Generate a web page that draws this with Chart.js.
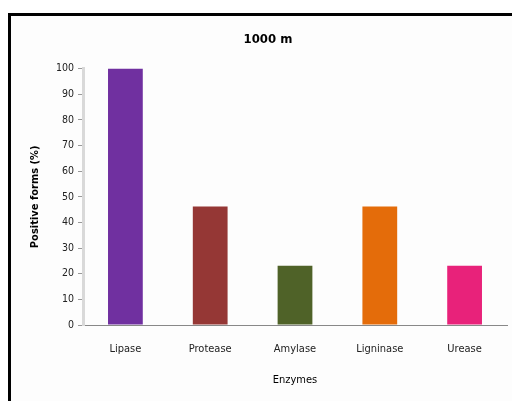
<!DOCTYPE html>
<html><head><meta charset="utf-8">
<script src="https://cdn.jsdelivr.net/npm/chart.js@4/dist/chart.umd.min.js"></script>
<style>
html,body{margin:0;padding:0;background:#fff;overflow:hidden;}
canvas{display:block;}
</style></head>
<body><canvas id="c" width="512" height="401"></canvas>
<script>
const categories = ["Lipase","Protease","Amylase","Ligninase","Urease"];
const values = [100, 46.2, 23.1, 46.2, 23.1];
const barColors = ["#7030A0","#953735","#4F6228","#E46C0A","#E8227A"];
const yTicks = [0,10,20,30,40,50,60,70,80,90,100];

const framePlugin = {
  id: 'frame',
  beforeDraw(chart) {
    const ctx = chart.ctx;
    ctx.save();
    ctx.fillStyle = '#ffffff';
    ctx.fillRect(0, 0, chart.width, chart.height);
    ctx.fillStyle = '#fdfdfd';
    ctx.fillRect(8, 13, chart.width - 8, chart.height - 13);
    ctx.fillStyle = '#000';
    ctx.fillRect(8, 13, chart.width - 8, 3);
    ctx.fillRect(8, 13, 3, chart.height - 13);
    ctx.restore();
  }
};

new Chart(document.getElementById('c'), {
  type: 'bar',
  data: { labels: categories, datasets: [{ data: values, backgroundColor: barColors, borderWidth: 0, barPercentage: 0.82, categoryPercentage: 0.5 }] },
  options: {
    responsive: false, animation: false,
    layout: { padding: { left: 29, right: 5, top: 0, bottom: 14 } },
    plugins: {
      legend: { display: false }, tooltip: { enabled: false },
      title: { display: true, text: '1000 m', color: '#000', font: { family: 'DejaVu Sans Condensed', size: 13, weight: 'bold' }, padding: { top: 32, bottom: 21 } }
    },
    scales: {
      x: {
        grid: { display: false, drawTicks: false },
        border: { color: '#888', width: 1 },
        ticks: { color: '#222', font: { family: 'DejaVu Sans Condensed', size: 11 }, padding: 18 },
        title: { display: true, text: 'Enzymes', color: '#000', font: { family: 'DejaVu Sans Condensed', size: 11 }, padding: { top: 10, bottom: 0 } },
        afterFit: s => { s.height = 62; }
      },
      y: {
        min: 0, max: 100,
        afterBuildTicks: s => { s.ticks = yTicks.map(v => ({ value: v })); },
        grid: { display: true, drawOnChartArea: false, drawTicks: true, tickLength: 5, color: '#999' },
        border: { color: '#d9d9d9', width: 3 },
        ticks: { color: '#222', font: { family: 'DejaVu Sans Condensed', size: 10.5 }, padding: 4 },
        title: { display: true, text: 'Positive forms (%)', color: '#000', font: { family: 'DejaVu Sans Condensed', size: 11, weight: 'bold' }, padding: 0 },
        afterFit: s => { s.width = 54; }
      }
    }
  },
  plugins: [framePlugin]
});
</script></body></html>
